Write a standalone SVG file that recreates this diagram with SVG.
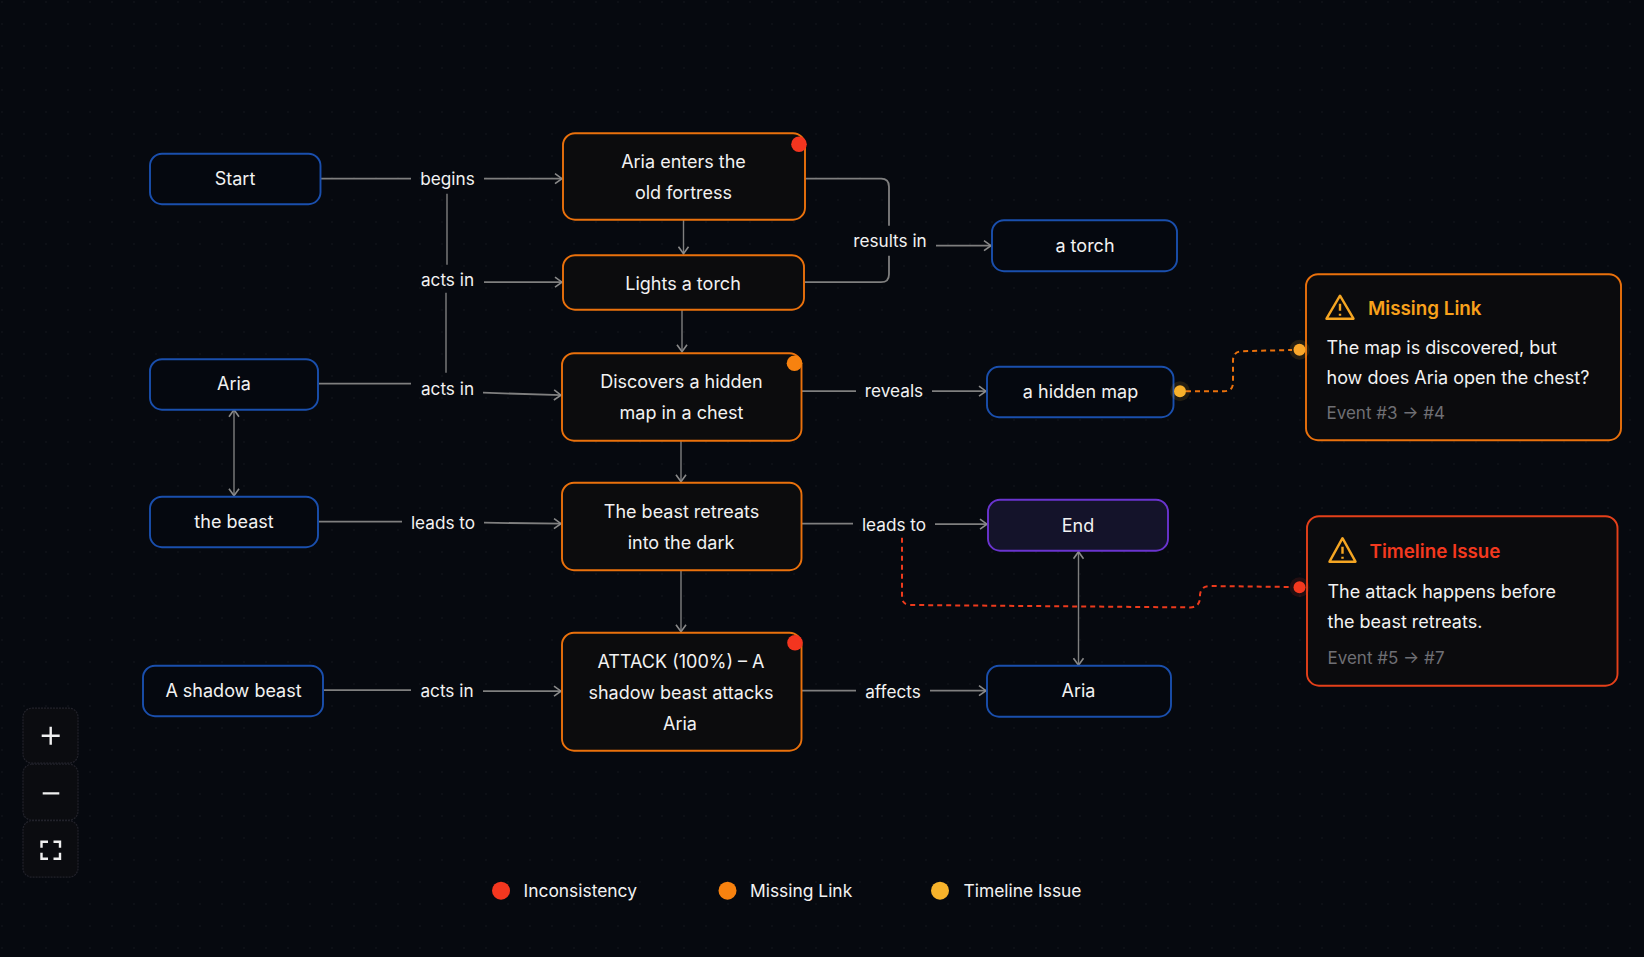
<svg xmlns="http://www.w3.org/2000/svg" width="1644" height="957" viewBox="0 0 1644 957">
<style>
text{font-family:"Inter","Liberation Sans",sans-serif;font-size:18px;fill:#f2f2f2;text-anchor:middle;dominant-baseline:central}
.blue{fill:#05080f;stroke:#1a4fad;stroke-width:1.900}
.ev{fill:#0c0c0d;stroke:#ea710c;stroke-width:1.900}
.end{fill:#14132a;stroke:#6a34cf;stroke-width:1.900}
.card{fill:#0b0b0d;stroke-width:1.900}
.c{fill:none;stroke:#7f7f7f;stroke-width:1.800}
.thin{fill:none;stroke:#7f7f7f;stroke-width:1.400}
.arr{marker-end:url(#a)}
.lbl{font-size:17.2px}
.left{text-anchor:start}
.muted{fill:#6f6f74;font-size:17px}
.leg{font-size:17.400px}
.ctl{fill:#0b0c10;stroke:#22222a;stroke-width:1.200;stroke-dasharray:2 1}
.ico{fill:none;stroke:#f0f0f0;stroke-width:2.400}
</style>
<defs>
<marker id="a" viewBox="0 0 10 12" refX="9" refY="6" markerWidth="10" markerHeight="12" markerUnits="userSpaceOnUse" orient="auto-start-reverse"><path d="M2 1L9 6L2 11" fill="none" stroke="#8a8a8a" stroke-width="1.600"/></marker>
<pattern id="g" width="22" height="22" patternUnits="userSpaceOnUse"><circle cx="2" cy="2" r="0.800" fill="#15171e"/></pattern>
</defs>
<rect width="1644" height="957" fill="#06090f"/>
<rect width="1644" height="957" fill="url(#g)"/>
<g transform="translate(0 0.700)">
<g id="connectors">
<path class="c" d="M321 178H411"/><path class="c arr" d="M484 178H562"/>
<path class="thin" d="M447 193V264"/><path class="c arr" d="M484 281.500H562"/>
<path class="thin" d="M446 292V372"/>
<path class="c" d="M319 383H411"/><path class="c arr" d="M483 392L561 394.500"/>
<path class="thin arr" d="M234 409V495" style="marker-start:url(#a)"/>
<path class="c" d="M319 521H402"/><path class="c arr" d="M484 522L561 523"/>
<path class="c" d="M324 689.500H411"/><path class="c arr" d="M483 690.500H561"/>
<path class="thin arr" d="M683.500 219V253"/><path class="thin arr" d="M682 309V351"/>
<path class="thin arr" d="M681 440V481"/><path class="thin arr" d="M681 570V631"/>
<path class="c" d="M805 178H881Q889 178 889 186V225"/>
<path class="c" d="M805 281.500H881Q889 281.500 889 273.500V255"/>
<path class="c arr" d="M936 245H991"/>
<path class="c" d="M802 390.500H856"/><path class="c arr" d="M932 390.500H986"/>
<path class="c" d="M802 523H853"/><path class="c arr" d="M935 523.500H987"/>
<path class="c" d="M802 690H856"/><path class="c arr" d="M930 690H986"/>
<path class="thin arr" d="M1078.500 551V664.500" style="marker-start:url(#a)"/>
<path d="M1186 390.500H1224Q1233 390.500 1233 382V360Q1233 351 1242 350.500L1292 349.300" fill="none" stroke="#ea710c" stroke-width="2" stroke-dasharray="5 4"/>
<path d="M902 537V596Q902 604 910 604.300L1190 606.700Q1199 606.700 1200 598V594Q1201 585.300 1210 585.300L1292 586.300" fill="none" stroke="#ec3a1c" stroke-width="2" stroke-dasharray="5 4"/>
<text class="lbl" x="447.500" y="178">begins</text>
<text class="lbl" x="447.500" y="279">acts in</text>
<text class="lbl" x="447.500" y="387.500">acts in</text>
<text class="lbl" x="443" y="522">leads to</text>
<text class="lbl" x="447" y="690">acts in</text>
<text class="lbl" x="890" y="239.500">results in</text>
<text class="lbl" x="894" y="389.500">reveals</text>
<text class="lbl" x="894" y="523.500">leads to</text>
<text class="lbl" x="893" y="690.500">affects</text>
</g>
<g id="n-start"><rect class="blue" x="150" y="153" width="170.500" height="50.500" rx="12"/><text x="235" y="178">Start</text></g>
<g id="n-aria"><rect class="blue" x="150" y="358.500" width="168" height="50.500" rx="12"/><text x="234" y="383">Aria</text></g>
<g id="n-beast"><rect class="blue" x="150" y="496" width="168" height="50.500" rx="12"/><text x="234" y="521">the beast</text></g>
<g id="n-shadow"><rect class="blue" x="143" y="665" width="180" height="50.500" rx="12"/><text x="233.500" y="689.500">A shadow beast</text></g>
<g id="n-e1"><rect class="ev" x="563" y="132.500" width="242" height="86.500" rx="12"/><text x="683.500" y="161">Aria enters the</text><text x="683.500" y="192">old fortress</text><circle cx="799" cy="143.500" r="7.800" fill="#f4351f"/></g>
<g id="n-e2"><rect class="ev" x="563" y="254.500" width="241" height="54.500" rx="12"/><text x="683" y="282.500">Lights a torch</text></g>
<g id="n-e3"><rect class="ev" x="562" y="352.500" width="239.500" height="87.500" rx="12"/><text x="681.500" y="381">Discovers a hidden</text><text x="681.500" y="412">map in a chest</text><circle cx="794.500" cy="362.500" r="7.800" fill="#f7820f"/></g>
<g id="n-e4"><rect class="ev" x="562" y="482" width="239.500" height="87.500" rx="12"/><text x="681.500" y="510.500">The beast retreats</text><text x="681" y="541.500">into the dark</text></g>
<g id="n-e5"><rect class="ev" x="562" y="632" width="239.500" height="118" rx="12"/><text x="681" y="660.500">ATTACK (100%) – A</text><text x="681" y="691.500">shadow beast attacks</text><text x="680" y="722.500">Aria</text><circle cx="795" cy="642" r="7.800" fill="#f4351f"/></g>
<g id="n-torch"><rect class="blue" x="992" y="219.500" width="185" height="51" rx="12"/><text x="1085" y="245">a torch</text></g>
<g id="n-map"><rect class="blue" x="987" y="366" width="186.500" height="50.500" rx="12"/><text x="1080.500" y="391">a hidden map</text></g>
<g id="n-end"><rect class="end" x="988" y="499" width="180" height="51" rx="12"/><text x="1078" y="524.500">End</text></g>
<g id="n-aria2"><rect class="blue" x="987" y="665" width="184" height="51" rx="12"/><text x="1078.500" y="690">Aria</text></g>
<g id="c-missing"><rect class="card" x="1306" y="273.500" width="315" height="166" rx="12" stroke="#ea710c"/>
<path d="M1340 295L1353.500 318H1326.500Z" fill="none" stroke="#f5a623" stroke-width="2.400" stroke-linejoin="round"/><path d="M1340 303V310M1340 313V315" fill="none" stroke="#f5a623" stroke-width="2.400"/>
<text class="left" x="1368" y="307.500" style="fill:#f9a11b;font-size:18.800px;font-weight:600">Missing Link</text>
<text class="left" x="1326.500" y="346.500">The map is discovered, but</text>
<text class="left" x="1326.500" y="377">how does Aria open the chest?</text>
<text class="left muted" x="1326.500" y="412.500">Event #3 → #4</text></g>
<g id="c-timeline"><rect class="card" x="1307" y="515.500" width="310.500" height="169.500" rx="12" stroke="#e5401a"/>
<path d="M1342.500 537.500L1355.500 561H1329.500Z" fill="none" stroke="#f5a623" stroke-width="2.400" stroke-linejoin="round"/><path d="M1342.500 546V553M1342.500 556V558" fill="none" stroke="#f5a623" stroke-width="2.400"/>
<text class="left" x="1369.500" y="550.500" style="fill:#f4391f;font-size:18.800px;font-weight:600">Timeline Issue</text>
<text class="left" x="1327.500" y="590.500">The attack happens before</text>
<text class="left" x="1327.500" y="621">the beast retreats.</text>
<text class="left muted" x="1327.500" y="657">Event #5 → #7</text></g>
<g id="anchors">
<circle cx="1180" cy="390.500" r="10" fill="#f9b12b" opacity=".12"/><circle cx="1180" cy="390.500" r="6" fill="#f9b12b"/>
<circle cx="1299.500" cy="349" r="10" fill="#f9b12b" opacity=".12"/><circle cx="1299.500" cy="349" r="6" fill="#f9a72b"/>
<circle cx="1299.500" cy="586.500" r="10" fill="#f4391f" opacity=".12"/><circle cx="1299.500" cy="586.500" r="6" fill="#f4391f"/>
</g>
<g id="controls">
<rect class="ctl" x="23" y="707.500" width="55" height="55" rx="9"/><rect class="ctl" x="23" y="763.500" width="55" height="56" rx="9"/><rect class="ctl" x="23" y="820" width="55" height="56.500" rx="9"/>
<path class="ico" d="M50.700 726V744M41.700 735H59.700M42.700 792.700H59.300M41.500 847V841H48M53.500 841H60V847M60 852V858H53.500M48 858H41.500V852"/>
</g>
<g id="legend">
<circle cx="501" cy="890" r="9" fill="#f4371f"/><text class="left leg" x="523.500" y="890">Inconsistency</text>
<circle cx="727.500" cy="890" r="9" fill="#f7820f"/><text class="left leg" x="750" y="890">Missing Link</text>
<circle cx="940" cy="890" r="9" fill="#f7b32b"/><text class="left leg" x="963.500" y="890">Timeline Issue</text>
</g>
</g>
</svg>
